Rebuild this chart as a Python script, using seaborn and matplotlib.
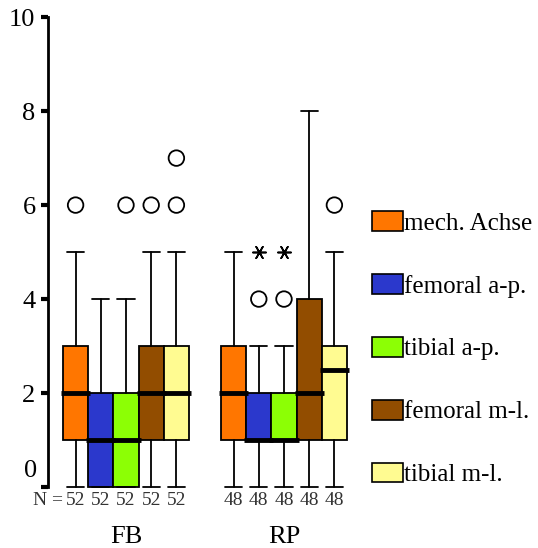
import numpy as np
import pandas as pd
import matplotlib
matplotlib.use("Agg")
import matplotlib.pyplot as plt
from matplotlib.patches import Patch
import seaborn as sns

# ---- data ----
groups = ["FB", "RP"]
n_labels = [52, 48]
variables = ["mech. Achse", "femoral a-p.", "tibial a-p.", "femoral m-l.", "tibial m-l."]
colors = ["#FF7600", "#2B38CC", "#8CFF05", "#924D00", "#FFFB91"]

q1 = {"FB": [1, 0, 0, 1, 1], "RP": [1, 1, 1, 1, 1]}
med = {"FB": [2, 1, 1, 2, 2], "RP": [2, 1, 1, 2, 2.5]}
q3 = {"FB": [3, 2, 2, 3, 3], "RP": [3, 2, 2, 4, 3]}
whislo = {"FB": [0, 0, 0, 0, 0], "RP": [0, 0, 0, 0, 0]}
whishi = {"FB": [5, 4, 4, 5, 5], "RP": [5, 3, 3, 8, 5]}
outliers = {"FB": [[6], [], [6], [6], [6, 7]], "RP": [[], [4], [4], [], [6]]}
extremes = {"FB": [[], [], [], [], []], "RP": [[], [5], [5], [], []]}
yticks = [0, 2, 4, 6, 8, 10]

sns.set_style("white")
plt.rcParams["font.family"] = ["Liberation Serif", "DejaVu Serif"]
plt.rcParams["text.color"] = "black"

fig = plt.figure(figsize=(5.38, 5.48), dpi=100)
ax = fig.add_axes([48 / 538, 0.107, 300 / 538, 0.866])

gap = 32 / 25.2
offsets = {"FB": 0.0, "RP": 5 + gap}

stats, positions, facecols = [], [], []
pts = []
for g in groups:
    for i, v in enumerate(variables):
        pos = offsets[g] + i
        stats.append(dict(med=med[g][i], q1=q1[g][i], q3=q3[g][i],
                          whislo=whislo[g][i], whishi=whishi[g][i], fliers=[]))
        positions.append(pos)
        facecols.append(colors[i])
        for o in outliers[g][i]:
            pts.append(dict(x=pos, y=o, kind="out"))
        for o in extremes[g][i]:
            pts.append(dict(x=pos, y=o, kind="ext"))

bp = ax.bxp(stats, positions=positions, widths=1.0, capwidths=0.68,
            patch_artist=True, showfliers=False,
            boxprops=dict(edgecolor="black", linewidth=1.3),
            whiskerprops=dict(color="black", linewidth=1.3),
            capprops=dict(color="black", linewidth=1.3),
            medianprops=dict(color="black", linewidth=3.5, solid_capstyle="butt"))
for patch, c in zip(bp["boxes"], facecols):
    patch.set_facecolor(c)
    patch.set_zorder(2)
for m in bp["medians"]:
    x = m.get_xdata()
    m.set_xdata([x[0] - 0.08, x[1] + 0.08])
    m.set_zorder(4)
for art in bp["whiskers"] + bp["caps"] + bp["boxes"] + bp["medians"]:
    art.set_clip_on(False)

pdf = pd.DataFrame(pts)
out = pdf[pdf.kind == "out"]
ext = pdf[pdf.kind == "ext"]
sns.scatterplot(data=out, x="x", y="y", marker="o", s=125, facecolor="none",
                edgecolor="black", linewidth=1.3, ax=ax, zorder=5)
sns.scatterplot(data=ext, x="x", y="y", marker=(6, 2, 90), s=90,
                color="black", linewidth=1.2, ax=ax, zorder=5)

ax.set_xlim(-1.095, -1.095 + 300 / 25.2)
ax.set_ylim(-0.05, 10.05)
ax.set_xlabel("")
ax.set_ylabel("")
ax.set_xticks([])
for s in ["top", "right", "bottom"]:
    ax.spines[s].set_visible(False)
ax.spines["left"].set_bounds(0, 10)
ax.spines["left"].set_linewidth(2)
ax.spines["left"].set_color("black")
ax.set_yticks(yticks)
ax.set_yticklabels([""] + [str(t) for t in yticks[1:]])
ax.tick_params(axis="y", length=5, width=3, direction="out", pad=4,
               labelsize=19, colors="black", left=True)
ax.text(-1.095 - 0.45, 0.35, str(yticks[0]), ha="right", va="center",
        fontsize=19, color="black")

# N labels
for gi, g in enumerate(groups):
    for i in range(len(variables)):
        pos = offsets[g] + i
        ax.text(pos, -0.28, str(n_labels[gi]), ha="center", va="center",
                fontsize=14, color="#333333", clip_on=False)
ax.text(offsets["FB"] - 0.5, -0.28, "N =", ha="right", va="center",
        fontsize=14, color="#333333", clip_on=False)
for g in groups:
    ax.text(offsets[g] + 2, -1.07, g, ha="center", va="center",
            fontsize=19, color="black", clip_on=False)

handles = [Patch(facecolor=c, edgecolor="black", linewidth=1.2) for c in colors]
leg = fig.legend(handles, variables, loc="upper left",
                 bbox_to_anchor=(372 / 538, 1 - 211 / 548), frameon=False,
                 fontsize=18, handlelength=1.23, handleheight=0.85,
                 handletextpad=0.05, labelspacing=1.57, borderpad=0,
                 borderaxespad=0)
for t in leg.get_texts():
    t.set_color("black")

fig.savefig("out.png", dpi=100)
